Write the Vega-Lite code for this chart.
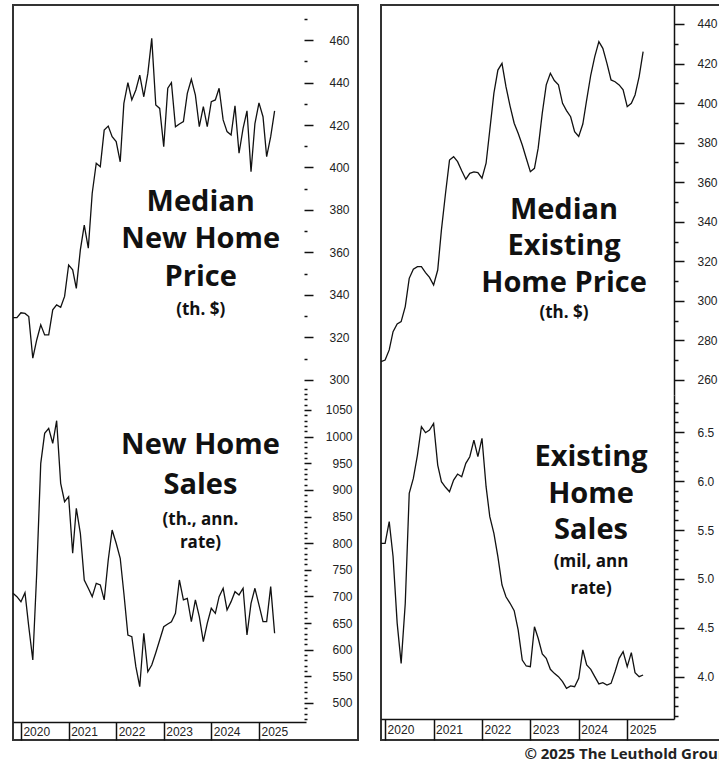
{
  "$schema": "https://vega.github.io/schema/vega-lite/v6.json",
  "padding": {"left": 9, "top": 4, "right": 0, "bottom": 0},
  "spacing": 23,
  "bounds": "flush",
  "config": {
    "view": {"stroke": "#333", "strokeWidth": 2},
    "axis": {"labelFont": "Liberation Sans", "labelFontSize": 12, "labelColor": "#222", "tickColor": "#111", "tickWidth": 1.5, "grid": false, "title": null, "labelOverlap": false, "labelFlush": false, "labelBound": false}
  },
  "datasets": {
    "lt": [
      {"d":"2019-11-01","v":329.3},{"d":"2019-12-01","v":329.3},
      {"d":"2020-01-01","v":331.6},{"d":"2020-02-01","v":331.3},{"d":"2020-03-01","v":329.8},{"d":"2020-04-01","v":310.2},{"d":"2020-05-01","v":318.8},{"d":"2020-06-01","v":325.9},{"d":"2020-07-01","v":321.2},{"d":"2020-08-01","v":321.2},{"d":"2020-09-01","v":333.0},{"d":"2020-10-01","v":335.3},{"d":"2020-11-01","v":334.2},{"d":"2020-12-01","v":339.3},
      {"d":"2021-01-01","v":354.1},{"d":"2021-02-01","v":351.8},{"d":"2021-03-01","v":343.1},{"d":"2021-04-01","v":361.2},{"d":"2021-05-01","v":372.9},{"d":"2021-06-01","v":362.0},{"d":"2021-07-01","v":387.9},{"d":"2021-08-01","v":402.0},{"d":"2021-09-01","v":400.4},{"d":"2021-10-01","v":417.6},{"d":"2021-11-01","v":419.5},{"d":"2021-12-01","v":414.5},
      {"d":"2022-01-01","v":412.2},{"d":"2022-02-01","v":402.7},{"d":"2022-03-01","v":430.2},{"d":"2022-04-01","v":439.9},{"d":"2022-05-01","v":431.8},{"d":"2022-06-01","v":436.5},{"d":"2022-07-01","v":443.5},{"d":"2022-08-01","v":433.3},{"d":"2022-09-01","v":444.3},{"d":"2022-10-01","v":460.8},{"d":"2022-11-01","v":429.4},{"d":"2022-12-01","v":427.8},
      {"d":"2023-01-01","v":409.8},{"d":"2023-02-01","v":437.3},{"d":"2023-03-01","v":439.9},{"d":"2023-04-01","v":419.2},{"d":"2023-05-01","v":420.5},{"d":"2023-06-01","v":421.6},{"d":"2023-07-01","v":434.9},{"d":"2023-08-01","v":441.5},{"d":"2023-09-01","v":434.1},{"d":"2023-10-01","v":419.2},{"d":"2023-11-01","v":428.6},{"d":"2023-12-01","v":419.2},
      {"d":"2024-01-01","v":431.0},{"d":"2024-02-01","v":431.8},{"d":"2024-03-01","v":437.3},{"d":"2024-04-01","v":422.4},{"d":"2024-05-01","v":416.9},{"d":"2024-06-01","v":415.3},{"d":"2024-07-01","v":429.0},{"d":"2024-08-01","v":406.7},{"d":"2024-09-01","v":418.4},{"d":"2024-10-01","v":426.7},{"d":"2024-11-01","v":398.0},{"d":"2024-12-01","v":420.7},
      {"d":"2025-01-01","v":430.4},{"d":"2025-02-01","v":423.9},{"d":"2025-03-01","v":405.1},{"d":"2025-04-01","v":414.5},{"d":"2025-05-01","v":426.7}
    ],
    "lb": [
      {"d":"2019-11-01","v":705.9},{"d":"2019-12-01","v":699.6},
      {"d":"2020-01-01","v":690.2},{"d":"2020-02-01","v":707.1},{"d":"2020-03-01","v":643.2},{"d":"2020-04-01","v":580.7},{"d":"2020-05-01","v":743.4},{"d":"2020-06-01","v":949.9},{"d":"2020-07-01","v":1006.2},{"d":"2020-08-01","v":1015.6},{"d":"2020-09-01","v":987.5},{"d":"2020-10-01","v":1029.9},{"d":"2020-11-01","v":912.4},{"d":"2020-12-01","v":877.9},
      {"d":"2021-01-01","v":887.3},{"d":"2021-02-01","v":781.0},{"d":"2021-03-01","v":865.5},{"d":"2021-04-01","v":818.5},{"d":"2021-05-01","v":730.9},{"d":"2021-06-01","v":715.3},{"d":"2021-07-01","v":699.6},{"d":"2021-08-01","v":724.7},{"d":"2021-09-01","v":721.6},{"d":"2021-10-01","v":693.4},{"d":"2021-11-01","v":768.4},{"d":"2021-12-01","v":824.7},
      {"d":"2022-01-01","v":799.8},{"d":"2022-02-01","v":771.6},{"d":"2022-03-01","v":705.9},{"d":"2022-04-01","v":627.6},{"d":"2022-05-01","v":624.4},{"d":"2022-06-01","v":568.1},{"d":"2022-07-01","v":530.6},{"d":"2022-08-01","v":630.8},{"d":"2022-09-01","v":558.7},{"d":"2022-10-01","v":571.2},{"d":"2022-11-01","v":594.4},{"d":"2022-12-01","v":618.2},
      {"d":"2023-01-01","v":643.2},{"d":"2023-02-01","v":648.2},{"d":"2023-03-01","v":652.6},{"d":"2023-04-01","v":668.2},{"d":"2023-05-01","v":730.9},{"d":"2023-06-01","v":693.4},{"d":"2023-07-01","v":696.5},{"d":"2023-08-01","v":652.6},{"d":"2023-09-01","v":693.4},{"d":"2023-10-01","v":662.0},{"d":"2023-11-01","v":615.1},{"d":"2023-12-01","v":649.6},
      {"d":"2024-01-01","v":677.8},{"d":"2024-02-01","v":668.2},{"d":"2024-03-01","v":699.6},{"d":"2024-04-01","v":715.3},{"d":"2024-05-01","v":674.7},{"d":"2024-06-01","v":690.2},{"d":"2024-07-01","v":709.0},{"d":"2024-08-01","v":702.8},{"d":"2024-09-01","v":715.3},{"d":"2024-10-01","v":627.6},{"d":"2024-11-01","v":687.1},{"d":"2024-12-01","v":715.3},
      {"d":"2025-01-01","v":684.0},{"d":"2025-02-01","v":652.6},{"d":"2025-03-01","v":652.6},{"d":"2025-04-01","v":718.4},{"d":"2025-05-01","v":630.8}
    ],
    "rt": [
      {"d":"2019-12-01","v":269.3},
      {"d":"2020-01-01","v":270.1},{"d":"2020-02-01","v":275.2},{"d":"2020-03-01","v":284.4},{"d":"2020-04-01","v":288.3},{"d":"2020-05-01","v":289.5},{"d":"2020-06-01","v":297.1},{"d":"2020-07-01","v":311.4},{"d":"2020-08-01","v":316.0},{"d":"2020-09-01","v":317.3},{"d":"2020-10-01","v":317.3},{"d":"2020-11-01","v":314.3},{"d":"2020-12-01","v":311.9},
      {"d":"2021-01-01","v":308.0},{"d":"2021-02-01","v":315.6},{"d":"2021-03-01","v":335.9},{"d":"2021-04-01","v":354.4},{"d":"2021-05-01","v":371.2},{"d":"2021-06-01","v":372.9},{"d":"2021-07-01","v":370.4},{"d":"2021-08-01","v":365.8},{"d":"2021-09-01","v":361.5},{"d":"2021-10-01","v":364.5},{"d":"2021-11-01","v":365.2},{"d":"2021-12-01","v":364.8},
      {"d":"2022-01-01","v":362.0},{"d":"2022-02-01","v":369.6},{"d":"2022-03-01","v":386.4},{"d":"2022-04-01","v":405.0},{"d":"2022-05-01","v":416.7},{"d":"2022-06-01","v":420.1},{"d":"2022-07-01","v":408.3},{"d":"2022-08-01","v":398.5},{"d":"2022-09-01","v":389.8},{"d":"2022-10-01","v":384.7},{"d":"2022-11-01","v":378.8},{"d":"2022-12-01","v":372.1},
      {"d":"2023-01-01","v":365.3},{"d":"2023-02-01","v":367.0},{"d":"2023-03-01","v":377.2},{"d":"2023-04-01","v":394.9},{"d":"2023-05-01","v":409.2},{"d":"2023-06-01","v":415.1},{"d":"2023-07-01","v":411.4},{"d":"2023-08-01","v":409.2},{"d":"2023-09-01","v":399.9},{"d":"2023-10-01","v":396.2},{"d":"2023-11-01","v":393.1},{"d":"2023-12-01","v":385.6},
      {"d":"2024-01-01","v":383.1},{"d":"2024-02-01","v":389.4},{"d":"2024-03-01","v":401.6},{"d":"2024-04-01","v":414.2},{"d":"2024-05-01","v":423.5},{"d":"2024-06-01","v":431.1},{"d":"2024-07-01","v":427.7},{"d":"2024-08-01","v":420.1},{"d":"2024-09-01","v":411.7},{"d":"2024-10-01","v":410.8},{"d":"2024-11-01","v":409.2},{"d":"2024-12-01","v":406.7},
      {"d":"2025-01-01","v":398.2},{"d":"2025-02-01","v":399.9},{"d":"2025-03-01","v":404.1},{"d":"2025-04-01","v":413.4},{"d":"2025-05-01","v":426.0}
    ],
    "rb": [
      {"d":"2019-12-01","v":5.364},
      {"d":"2020-01-01","v":5.364},{"d":"2020-02-01","v":5.585},{"d":"2020-03-01","v":5.23},{"d":"2020-04-01","v":4.55},{"d":"2020-05-01","v":4.139},{"d":"2020-06-01","v":4.75},{"d":"2020-07-01","v":5.874},{"d":"2020-08-01","v":6.027},{"d":"2020-09-01","v":6.265},{"d":"2020-10-01","v":6.554},{"d":"2020-11-01","v":6.493},{"d":"2020-12-01","v":6.52},
      {"d":"2021-01-01","v":6.588},{"d":"2021-02-01","v":6.163},{"d":"2021-03-01","v":5.993},{"d":"2021-04-01","v":5.936},{"d":"2021-05-01","v":5.891},{"d":"2021-06-01","v":6.01},{"d":"2021-07-01","v":6.071},{"d":"2021-08-01","v":6.044},{"d":"2021-09-01","v":6.18},{"d":"2021-10-01","v":6.248},{"d":"2021-11-01","v":6.418},{"d":"2021-12-01","v":6.248},
      {"d":"2022-01-01","v":6.436},{"d":"2022-02-01","v":5.942},{"d":"2022-03-01","v":5.636},{"d":"2022-04-01","v":5.466},{"d":"2022-05-01","v":5.228},{"d":"2022-06-01","v":4.939},{"d":"2022-07-01","v":4.819},{"d":"2022-08-01","v":4.752},{"d":"2022-09-01","v":4.677},{"d":"2022-10-01","v":4.48},{"d":"2022-11-01","v":4.173},{"d":"2022-12-01","v":4.112},
      {"d":"2023-01-01","v":4.105},{"d":"2023-02-01","v":4.513},{"d":"2023-03-01","v":4.395},{"d":"2023-04-01","v":4.235},{"d":"2023-05-01","v":4.19},{"d":"2023-06-01","v":4.078},{"d":"2023-07-01","v":4.037},{"d":"2023-08-01","v":4.003},{"d":"2023-09-01","v":3.952},{"d":"2023-10-01","v":3.884},{"d":"2023-11-01","v":3.908},{"d":"2023-12-01","v":3.901},
      {"d":"2024-01-01","v":3.986},{"d":"2024-02-01","v":4.276},{"d":"2024-03-01","v":4.122},{"d":"2024-04-01","v":4.078},{"d":"2024-05-01","v":4.003},{"d":"2024-06-01","v":3.929},{"d":"2024-07-01","v":3.942},{"d":"2024-08-01","v":3.918},{"d":"2024-09-01","v":3.935},{"d":"2024-10-01","v":4.054},{"d":"2024-11-01","v":4.19},{"d":"2024-12-01","v":4.258},
      {"d":"2025-01-01","v":4.105},{"d":"2025-02-01","v":4.248},{"d":"2025-03-01","v":4.044},{"d":"2025-04-01","v":4.003},{"d":"2025-05-01","v":4.02}
    ]
  },
  "hconcat": [
    {
      "width": 345,
      "height": 735,
      "encoding": {
        "x": {
          "field": "d", "type": "temporal",
          "scale": {"type": "utc", "domain": [{"year": 2019, "month": 11, "date": 1, "utc": true}, {"year": 2025, "month": 12, "date": 28, "utc": true}], "range": [0, 293], "nice": false},
          "axis": {"orient": "bottom", "offset": -18, "values": [{"year": 2020, "month": 1, "date": 1, "utc": true}, {"year": 2021, "month": 1, "date": 1, "utc": true}, {"year": 2022, "month": 1, "date": 1, "utc": true}, {"year": 2023, "month": 1, "date": 1, "utc": true}, {"year": 2024, "month": 1, "date": 1, "utc": true}, {"year": 2025, "month": 1, "date": 1, "utc": true}], "format": "%Y", "tickSize": 18, "labelPadding": -9, "labelAlign": "left", "labelBaseline": "middle", "labelOffset": 2, "domain": true, "domainColor": "#111", "domainWidth": 1.5}
        }
      },
      "layer": [
        {
          "layer": [
            {"data": {"name": "lt"}, "mark": {"type": "line", "color": "#111", "strokeWidth": 1.3},
             "encoding": {"y": {"field": "v", "type": "quantitative", "scale": {"domain": [297.6, 476.5], "range": [380, 0], "nice": false, "zero": false},
               "axis": {"orient": "right", "offset": -54, "domain": false, "values": [300, 320, 340, 360, 380, 400, 420, 440, 460], "tickSize": 9, "labelAlign": "left", "labelBaseline": "middle", "labelPadding": 16}}}},
            {"data": {"values": [{"d": "2023-10-12", "v": 383.8, "t": "Median|New Home|Price"}]}, "mark": {"type": "text", "font": "Open Sans", "fontWeight": "bold", "fontSize": 29, "lineBreak": "|", "lineHeight": 37.5, "align": "center", "baseline": "middle", "color": "#111"},
             "encoding": {"text": {"field": "t"}, "y": {"field": "v", "type": "quantitative", "scale": {"domain": [297.6, 476.5], "range": [380, 0], "nice": false, "zero": false},
               "axis": {"orient": "right", "offset": -54, "domain": false, "values": [310, 330, 350, 370, 390, 410, 430, 450, 470], "tickSize": 3, "labels": false}}}},
            {"data": {"values": [{"d": "2023-10-12", "v": 333.0, "t": "(th. $)"}]}, "mark": {"type": "text", "font": "Open Sans", "fontWeight": "bold", "fontSize": 17, "align": "center", "baseline": "middle", "color": "#111"},
             "encoding": {"text": {"field": "t"}, "y": {"field": "v", "type": "quantitative", "scale": {"domain": [297.6, 476.5], "range": [380, 0], "nice": false, "zero": false}, "axis": null}}}
          ],
          "resolve": {"scale": {"y": "shared"}, "axis": {"y": "independent"}}
        },
        {
          "layer": [
            {"data": {"name": "lb"}, "mark": {"type": "line", "color": "#111", "strokeWidth": 1.3},
             "encoding": {"y": {"field": "v", "type": "quantitative", "scale": {"domain": [464.3, 1096.9], "range": [717, 380], "nice": false, "zero": false},
               "axis": {"orient": "right", "offset": -54, "domain": false, "values": [500, 600, 700, 800, 900, 1000], "format": "d", "tickSize": 9, "labelAlign": "right", "labelBaseline": "middle", "labelPadding": 39}}}},
            {"data": {"values": [{"d": "2023-10-10", "v": 984.3, "t": "New Home|Sales"}]}, "mark": {"type": "text", "font": "Open Sans", "fontWeight": "bold", "fontSize": 29, "lineBreak": "|", "lineHeight": 40, "align": "center", "baseline": "middle", "color": "#111"},
             "encoding": {"text": {"field": "t"}, "y": {"field": "v", "type": "quantitative", "scale": {"domain": [464.3, 1096.9], "range": [717, 380], "nice": false, "zero": false},
               "axis": {"orient": "right", "offset": -54, "domain": false, "values": [550, 650, 750, 850, 950, 1050], "format": "d", "tickSize": 7, "labelAlign": "right", "labelBaseline": "middle", "labelPadding": 41}}}},
            {"data": {"values": [{"d": "2023-10-10", "v": 843.5, "t": "(th., ann.|rate)"}]}, "mark": {"type": "text", "font": "Open Sans", "fontWeight": "bold", "fontSize": 17, "lineBreak": "|", "lineHeight": 23, "align": "center", "baseline": "middle", "color": "#111"},
             "encoding": {"text": {"field": "t"}, "y": {"field": "v", "type": "quantitative", "scale": {"domain": [464.3, 1096.9], "range": [717, 380], "nice": false, "zero": false},
               "axis": {"orient": "right", "offset": -54, "domain": false, "values": [470, 480, 490, 510, 520, 530, 540, 560, 570, 580, 590, 610, 620, 630, 640, 660, 670, 680, 690, 710, 720, 730, 740, 760, 770, 780, 790, 810, 820, 830, 840, 860, 870, 880, 890, 910, 920, 930, 940, 960, 970, 980, 990, 1010, 1020, 1030, 1040, 1060, 1070, 1080, 1090], "tickSize": 3, "labels": false}}}}
          ],
          "resolve": {"scale": {"y": "shared"}, "axis": {"y": "independent"}}
        }
      ],
      "resolve": {"scale": {"y": "independent"}, "axis": {"y": "independent"}}
    },
    {
      "width": 346,
      "height": 735,
      "title": {"text": "© 2025 The Leuthold Group", "orient": "bottom", "anchor": "start", "dx": 146, "offset": 6, "font": "Open Sans", "fontSize": 15, "fontWeight": "bold", "color": "#222"},
      "encoding": {
        "x": {
          "field": "d", "type": "temporal",
          "scale": {"type": "utc", "domain": [{"year": 2019, "month": 12, "date": 1, "utc": true}, {"year": 2025, "month": 12, "date": 20, "utc": true}], "range": [0, 293], "nice": false},
          "axis": {"orient": "bottom", "offset": -21, "values": [{"year": 2020, "month": 1, "date": 1, "utc": true}, {"year": 2021, "month": 1, "date": 1, "utc": true}, {"year": 2022, "month": 1, "date": 1, "utc": true}, {"year": 2023, "month": 1, "date": 1, "utc": true}, {"year": 2024, "month": 1, "date": 1, "utc": true}, {"year": 2025, "month": 1, "date": 1, "utc": true}], "format": "%Y", "tickSize": 21, "labelPadding": -11, "labelAlign": "left", "labelBaseline": "middle", "labelOffset": 2, "domain": true, "domainColor": "#111", "domainWidth": 1.5}
        }
      },
      "layer": [
        {
          "layer": [
            {"data": {"name": "rt"}, "mark": {"type": "line", "color": "#111", "strokeWidth": 1.3},
             "encoding": {"y": {"field": "v", "type": "quantitative", "scale": {"domain": [252.4, 449.6], "range": [390, 0], "nice": false, "zero": false},
               "axis": {"orient": "right", "offset": -53, "domain": true, "domainColor": "#111", "domainWidth": 1.5, "values": [260, 280, 300, 320, 340, 360, 380, 400, 420, 440], "tickSize": 10, "labelAlign": "left", "labelBaseline": "middle", "labelPadding": 13}}}},
            {"data": {"values": [{"d": "2023-09-12", "v": 346.0, "t": "Median|Existing|Home Price"}]}, "mark": {"type": "text", "font": "Open Sans", "fontWeight": "bold", "fontSize": 29, "lineBreak": "|", "lineHeight": 36.5, "align": "center", "baseline": "middle", "color": "#111"},
             "encoding": {"text": {"field": "t"}, "y": {"field": "v", "type": "quantitative", "scale": {"domain": [252.4, 449.6], "range": [390, 0], "nice": false, "zero": false},
               "axis": {"orient": "right", "offset": -53, "domain": false, "values": [270, 290, 310, 330, 350, 370, 390, 410, 430], "tickSize": 4, "labels": false}}}},
            {"data": {"values": [{"d": "2023-09-12", "v": 293.9, "t": "(th. $)"}]}, "mark": {"type": "text", "font": "Open Sans", "fontWeight": "bold", "fontSize": 17, "align": "center", "baseline": "middle", "color": "#111"},
             "encoding": {"text": {"field": "t"}, "y": {"field": "v", "type": "quantitative", "scale": {"domain": [252.4, 449.6], "range": [390, 0], "nice": false, "zero": false}, "axis": null}}}
          ],
          "resolve": {"scale": {"y": "shared"}, "axis": {"y": "independent"}}
        },
        {
          "layer": [
            {"data": {"name": "rb"}, "mark": {"type": "line", "color": "#111", "strokeWidth": 1.3},
             "encoding": {"y": {"field": "v", "type": "quantitative", "scale": {"domain": [3.571, 6.878], "range": [714, 390], "nice": false, "zero": false},
               "axis": {"orient": "right", "offset": -53, "domain": true, "domainColor": "#111", "domainWidth": 1.5, "values": [4.0, 4.5, 5.0, 5.5, 6.0, 6.5], "format": ".1f", "tickSize": 10, "labelAlign": "left", "labelBaseline": "middle", "labelPadding": 13}}}},
            {"data": {"values": [{"d": "2024-04-03", "v": 6.245, "t": "Existing|Home|Sales"}]}, "mark": {"type": "text", "font": "Open Sans", "fontWeight": "bold", "fontSize": 29, "lineBreak": "|", "lineHeight": 36.5, "align": "center", "baseline": "middle", "color": "#111"},
             "encoding": {"text": {"field": "t"}, "y": {"field": "v", "type": "quantitative", "scale": {"domain": [3.571, 6.878], "range": [714, 390], "nice": false, "zero": false},
               "axis": {"orient": "right", "offset": -53, "domain": false, "values": [3.6, 3.7, 3.8, 3.9, 4.1, 4.2, 4.3, 4.4, 4.6, 4.7, 4.8, 4.9, 5.1, 5.2, 5.3, 5.4, 5.6, 5.7, 5.8, 5.9, 6.1, 6.2, 6.3, 6.4, 6.6, 6.7, 6.8], "tickSize": 4, "labels": false}}}},
            {"data": {"values": [{"d": "2024-04-03", "v": 5.174, "t": "(mil, ann|rate)"}]}, "mark": {"type": "text", "font": "Open Sans", "fontWeight": "bold", "fontSize": 17, "lineBreak": "|", "lineHeight": 27, "align": "center", "baseline": "middle", "color": "#111"},
             "encoding": {"text": {"field": "t"}, "y": {"field": "v", "type": "quantitative", "scale": {"domain": [3.571, 6.878], "range": [714, 390], "nice": false, "zero": false}, "axis": null}}}
          ],
          "resolve": {"scale": {"y": "shared"}, "axis": {"y": "independent"}}
        }
      ],
      "resolve": {"scale": {"y": "independent"}, "axis": {"y": "independent"}}
    }
  ]
}
